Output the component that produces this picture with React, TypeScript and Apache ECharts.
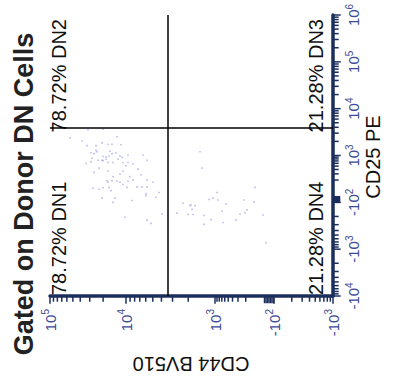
import React, { useEffect, useRef } from "react";
import * as echarts from "echarts";

const chartTitle = "Gated on Donor DN Cells";
const cd25Name = "CD25 PE";
const cd44Name = "CD44 BV510";

// CD25 axis (biexponential display slots)
const cd25LabelPos = [0, 1, 2, 3, 4, 5, 6];
const cd25Labels = ["-10^4", "-10^3", "-10^2", "10^3", "10^4", "10^5", "10^6"];
// CD44 axis (display channels)
const cd44LabelPos = [0, 59, 118, 207, 283];
const cd44Labels = ["-10^3", "-10^2", "10^3", "10^4", "10^5"];

const cd25Gate = 3.59;
const cd44Gate = 165;

const quadDN1 = "78.72% DN1";
const quadDN2 = "78.72% DN2";
const quadDN3 = "21.28% DN3";
const quadDN4 = "21.28% DN4";

// events, CD25 display value
const cellsCD25 = [
  3.55, 3.56, 3.40, 3.31, 3.38, 3.21, 3.21, 3.27, 3.24, 3.24, 3.23, 3.11, 3.08, 3.06, 3.04, 3.09,
  3.06, 3.04, 2.99, 2.98, 2.97, 2.99, 2.96, 3.01, 3.01, 2.94, 2.90, 2.90, 2.92, 2.89, 2.85, 2.85,
  2.92, 2.85, 2.85, 2.83, 2.87, 2.82, 2.90, 2.78, 2.67, 2.71, 2.73, 2.64, 2.67, 2.60, 2.55, 2.55,
  2.46, 2.46, 2.43, 2.45, 2.43, 2.38, 2.45, 2.48, 2.59, 2.48, 2.43, 2.33, 2.33, 2.33, 2.32, 2.32,
  2.28, 2.31, 2.30, 2.25, 2.09, 2.09, 2.00, 2.04, 2.18, 2.14, 2.11, 2.21, 1.68, 1.62, 1.75, 1.55,
  3.08, 2.73, 2.21, 2.06, 2.09, 2.05, 1.98, 1.93, 1.95, 1.93, 1.85, 1.77, 1.74, 1.74, 1.72, 1.53,
  1.63, 1.81, 1.96, 1.57, 1.62, 1.75, 2.05, 1.78, 1.84, 2.01, 2.32, 1.73, 1.14,
];
// events, CD44 display channel
const cellsCD44 = [
  245, 230, 216, 251, 263, 246, 237, 231, 225, 221, 212, 237, 236, 242, 239, 223,
  217, 221, 224, 230, 227, 213, 211, 205, 190, 241, 235, 231, 227, 230, 225, 220,
  215, 210, 205, 247, 242, 200, 186, 207, 225, 195, 234, 239, 210, 213, 220, 203,
  226, 221, 225, 216, 213, 210, 205, 200, 192, 186, 180, 196, 191, 186, 206, 224,
  234, 230, 240, 222, 231, 218, 220, 201, 187, 187, 177, 174, 208, 186, 171, 182,
  133, 131, 116, 124, 120, 115, 150, 143, 142, 138, 141, 156, 145, 140, 129, 129,
  122, 111, 107, 110, 97, 93, 89, 88, 86, 79, 78, 70, 67,
];

const FONT = "Liberation Sans, Arial, sans-serif";
const AXIS_COLOR = "#1c2f5c";
const LABEL_COLOR = "#3a4a96";

const ks = [2, 3, 4, 5, 6, 7, 8, 9];
const decade = (a: number, b: number) => ks.map((k) => a + (b - a) * Math.log10(k));

const MAJOR = 6;
const MINOR = 4;
const CLUSTER = 5.5;

const cd25Ticks: number[][] = [
  ...cd25LabelPos.map((v) => [v, MAJOR]),
  ...decade(1, 0).map((v) => [v, MINOR]),
  ...decade(2, 1).map((v) => [v, MINOR]),
  ...[2.0, 2.02, 2.04, 2.06, 2.08, 2.1, 2.12].map((v) => [v, CLUSTER]),
  ...decade(2.25, 3).map((v) => [v, MINOR]),
  ...decade(3, 4).map((v) => [v, MINOR]),
  ...decade(4, 5).map((v) => [v, MINOR]),
  ...decade(5, 6).map((v) => [v, MINOR]),
];
const cd44Ticks: number[][] = [
  ...cd44LabelPos.map((v) => [v, MAJOR]),
  ...decade(59, 0).map((v) => [v, MINOR]),
  ...[59.5, 61, 62.5, 64, 65.5, 67, 68.5].map((v) => [v, CLUSTER]),
  ...decade(74, 118).map((v) => [v, MINOR]),
  ...decade(118, 207).map((v) => [v, MINOR]),
  ...decade(207, 283).map((v) => [v, MINOR]),
];

function fmt(pos: number[], labels: string[]) {
  return (v: number) => {
    let idx = 0;
    let best = Infinity;
    pos.forEach((p, i) => {
      const d = Math.abs(p - v);
      if (d < best) {
        best = d;
        idx = i;
      }
    });
    const [b, s] = labels[idx].split("^");
    return `{b|${b}}{s|${s}}`;
  };
}

const rich = {
  b: { fontSize: 15, color: LABEL_COLOR, fontFamily: FONT },
  s: { fontSize: 10, color: LABEL_COLOR, fontFamily: FONT, padding: [0, 0, 9, 0] },
};

export default function App() {
  const ref = useRef<HTMLDivElement>(null);
  useEffect(() => {
    if (!ref.current) return;
    const chart = echarts.init(ref.current, undefined, { renderer: "svg", width: 383, height: 393 });
    const option: any = {
      animation: false,
      backgroundColor: "#ffffff",
      grid: { left: 87, right: 15, top: 50, bottom: 60 },
      xAxis: {
        type: "value",
        min: 0,
        max: 6,
        position: "bottom",
        axisLine: { show: true, onZero: false, lineStyle: { color: AXIS_COLOR, width: 3.5 } },
        axisTick: { show: false },
        axisLabel: { show: true, customValues: cd25LabelPos, margin: 11, formatter: fmt(cd25LabelPos, cd25Labels), rich },
        splitLine: { show: false },
      },
      yAxis: {
        type: "value",
        min: 0,
        max: 283,
        position: "left",
        axisLine: { show: true, onZero: false, lineStyle: { color: AXIS_COLOR, width: 3.5 } },
        axisTick: { show: false },
        axisLabel: { show: true, customValues: cd44LabelPos, margin: 13, formatter: fmt(cd44LabelPos, cd44Labels), rich },
        splitLine: { show: false },
      },
      series: [
        {
          type: "scatter",
          symbol: "rect",
          symbolSize: 1.6,
          itemStyle: { color: "rgba(115,115,215,0.6)" },
          data: cellsCD25.map((x, i) => [x, cellsCD44[i]]),
          markLine: {
            silent: true,
            symbol: ["none", "none"],
            label: { show: false },
            lineStyle: { color: "#000", width: 1.5, type: "solid" },
            data: [{ xAxis: cd25Gate }, { yAxis: cd44Gate }],
          },
        },
        {
          type: "custom",
          clip: false,
          silent: true,
          data: cd25Ticks,
          renderItem: (_p: any, api: any) => {
            const v = api.value(0);
            const len = api.value(1);
            const pt = api.coord([v, 0]);
            return {
              type: "line",
              shape: { x1: pt[0], y1: pt[1], x2: pt[0], y2: pt[1] + 1.7 + len },
              style: { stroke: AXIS_COLOR, lineWidth: 1.5 },
            };
          },
        },
        {
          type: "custom",
          clip: false,
          silent: true,
          data: cd44Ticks,
          renderItem: (_p: any, api: any) => {
            const v = api.value(0);
            const len = api.value(1);
            const pt = api.coord([0, v]);
            return {
              type: "line",
              shape: { x1: pt[0], y1: pt[1], x2: pt[0] - 1.7 - len, y2: pt[1] },
              style: { stroke: AXIS_COLOR, lineWidth: 1.5 },
            };
          },
        },
      ],
      graphic: [
        {
          type: "text",
          x: 189,
          y: 10,
          style: { text: chartTitle, fontSize: 27, fontWeight: "bold", fontFamily: FONT, fill: "#222", align: "center", verticalAlign: "top" },
        },
        {
          type: "text",
          x: 88,
          y: 49,
          style: { text: quadDN1, fontSize: 20, fontFamily: FONT, fill: "#111", align: "left", verticalAlign: "top" },
        },
        {
          type: "text",
          x: 364,
          y: 49,
          style: { text: quadDN2, fontSize: 20, fontFamily: FONT, fill: "#111", align: "right", verticalAlign: "top" },
        },
        {
          type: "text",
          x: 364,
          y: 306,
          style: { text: quadDN3, fontSize: 20, fontFamily: FONT, fill: "#111", align: "right", verticalAlign: "top" },
        },
        {
          type: "text",
          x: 88,
          y: 306,
          style: { text: quadDN4, fontSize: 20, fontFamily: FONT, fill: "#111", align: "left", verticalAlign: "top" },
        },
        {
          type: "text",
          x: 226,
          y: 363,
          style: { text: cd25Name, fontSize: 20, fontFamily: FONT, fill: "#111", align: "center", verticalAlign: "top" },
        },
        {
          type: "text",
          x: 19,
          y: 191,
          rotation: Math.PI / 2,
          style: { text: cd44Name, fontSize: 20, fontFamily: FONT, fill: "#111", align: "center", verticalAlign: "middle" },
        },
      ],
    };
    chart.setOption(option);
    return () => chart.dispose();
  }, []);
  return (
    <div style={{ position: "absolute", left: 0, top: 0, width: 393, height: 383, overflow: "hidden", background: "#fff" }}>
      <div
        ref={ref}
        style={{
          position: "absolute",
          left: 0,
          top: 0,
          width: 383,
          height: 393,
          transformOrigin: "0 0",
          transform: "translate(0px, 383px) rotate(-90deg)",
        }}
      />
    </div>
  );
}
